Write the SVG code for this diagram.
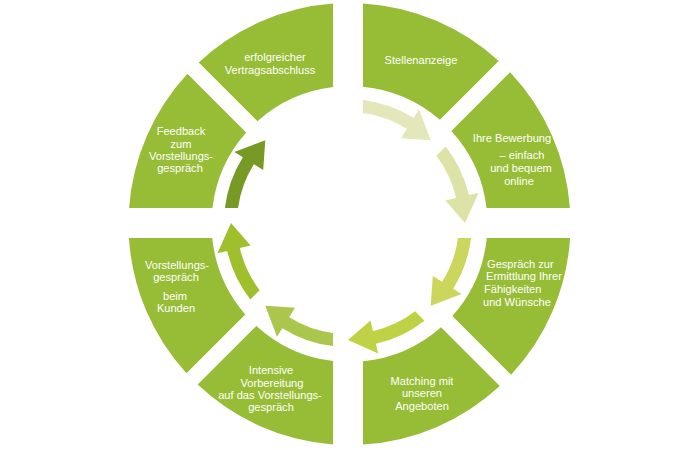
<svg xmlns="http://www.w3.org/2000/svg" width="700" height="450" viewBox="0 0 700 450">
<style>
.seg{fill:#97bc35;}
.lbl{font-family:"Liberation Sans","DejaVu Sans",Arial,sans-serif;font-size:11.1px;fill:#ffffff;text-anchor:middle;}
.lft{text-anchor:start;}
</style>
<defs>
<path id="arr" d="M363,99.91 A124,124 0 0 1 413.71,117.84 L419.01,109.36 L430.73,140.27 L400.99,138.2 L406.82,128.87 A111,111 0 0 0 363,113.02 Z"/>
</defs>
<rect width="700" height="450" fill="#ffffff"/>
<g id="node-stellenanzeige">
<path class="seg" d="M363,3.41 A221,221 0 0 1 498.71,60.97 L439.93,119.76 A138,138 0 0 0 363,86.66 Z"/>
<text class="lbl" x="421" y="64">Stellenanzeige</text>
</g>
<g id="node-bewerbung">
<path class="seg" d="M510.12,72.19 A221,221 0 0 1 569.92,208 L486.57,208 A138,138 0 0 0 451.39,130.92 Z"/>
<text class="lbl" x="512" y="142">Ihre Bewerbung</text>
<text class="lbl" x="522" y="159">– einfach</text>
<text class="lbl" x="521" y="172">und bequem</text>
<text class="lbl" x="519" y="185">online</text>
</g>
<g id="node-gespraech">
<path class="seg" d="M570.06,238 A221,221 0 0 1 511.08,374.77 L452.34,316.03 A138,138 0 0 0 486.79,238 Z"/>
<text class="lbl lft" x="487" y="268">Gespräch zur</text>
<text class="lbl lft" x="486" y="280">Ermittlung Ihrer</text>
<text class="lbl lft" x="484" y="293">Fähigkeiten</text>
<text class="lbl lft" x="483" y="306">und Wünsche</text>
</g>
<g id="node-matching">
<path class="seg" d="M499.76,386.07 A221,221 0 0 1 363,444.59 L363,361.34 A138,138 0 0 0 441,327.31 Z"/>
<text class="lbl" x="422" y="385">Matching mit</text>
<text class="lbl" x="422" y="397">unseren</text>
<text class="lbl" x="422" y="410">Angeboten</text>
</g>
<g id="node-vorbereitung">
<path class="seg" d="M333,444.38 A221,221 0 0 1 197.69,384.62 L256.42,325.89 A138,138 0 0 0 333,361.01 Z"/>
<text class="lbl" x="271" y="374">Intensive</text>
<text class="lbl" x="272" y="387">Vorbereitung</text>
<text class="lbl" x="270" y="399">auf das Vorstellungs-</text>
<text class="lbl" x="271" y="411">gespräch</text>
</g>
<g id="node-kunde">
<path class="seg" d="M186.47,373.21 A221,221 0 0 1 128.94,238 L212.21,238 A138,138 0 0 0 245.26,314.43 Z"/>
<text class="lbl" x="177" y="269">Vorstellungs-</text>
<text class="lbl" x="176" y="281">gespräch</text>
<text class="lbl" x="175" y="300">beim</text>
<text class="lbl" x="176" y="312">Kunden</text>
</g>
<g id="node-feedback">
<path class="seg" d="M129.08,208 A221,221 0 0 1 187.43,73.74 L246.19,132.5 A138,138 0 0 0 212.43,208 Z"/>
<text class="lbl" x="181" y="135">Feedback</text>
<text class="lbl" x="181" y="148">zum</text>
<text class="lbl" x="181" y="160">Vorstellungs-</text>
<text class="lbl" x="180" y="172">gespräch</text>
</g>
<g id="node-abschluss">
<path class="seg" d="M198.73,62.42 A221,221 0 0 1 333,3.62 L333,86.99 A138,138 0 0 0 257.47,121.16 Z"/>
<text class="lbl" x="275" y="61">erfolgreicher</text>
<text class="lbl" x="270" y="74">Vertragsabschluss</text>
</g>
<g id="connectors">
<use href="#arr" fill="#e3e7b9"/>
<use href="#arr" fill="#dde3a6" transform="rotate(45 348 223)"/>
<use href="#arr" fill="#ccd65d" transform="rotate(90 348 223)"/>
<use href="#arr" fill="#bfd246" transform="rotate(135 348 223)"/>
<use href="#arr" fill="#abc64c" transform="rotate(180 348 223)"/>
<use href="#arr" fill="#a0bf2c" transform="rotate(225 348 223)"/>
<use href="#arr" fill="#779a24" transform="rotate(270 348 223)"/>
</g>
</svg>
